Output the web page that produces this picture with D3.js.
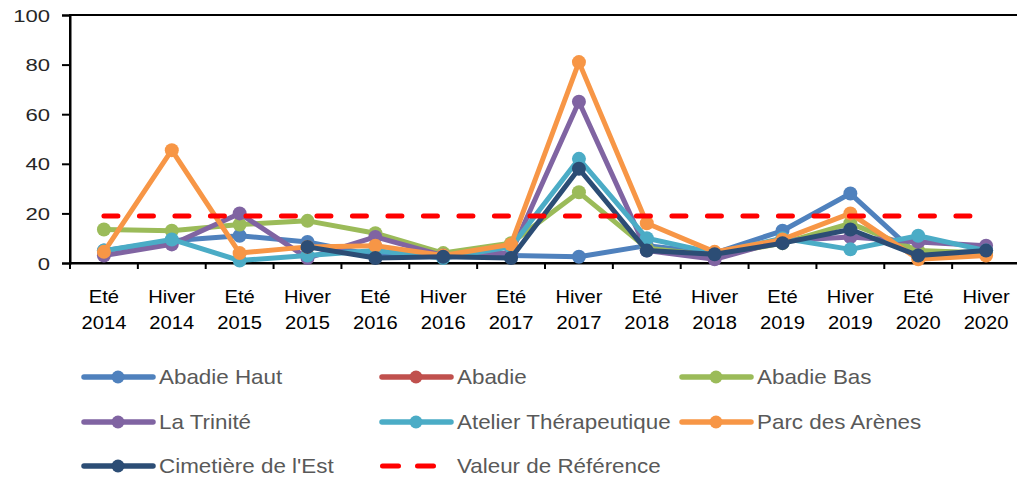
<!DOCTYPE html>
<html>
<head>
<meta charset="utf-8">
<script src="https://cdn.jsdelivr.net/npm/d3@7/dist/d3.min.js"></script>
<style>
  html, body { margin: 0; padding: 0; background: #ffffff; }
  svg { display: block; font-family: "Liberation Sans", Arial, sans-serif; }
</style>
</head>
<body>
<svg id="chart" width="1017" height="478"></svg>
<script>
// Sampling periods (two-line labels: season / year)
const seasons = ["Eté", "Hiver", "Eté", "Hiver", "Eté", "Hiver", "Eté", "Hiver", "Eté", "Hiver", "Eté", "Hiver", "Eté", "Hiver"];
const years   = ["2014", "2014", "2015", "2015", "2016", "2016", "2017", "2017", "2018", "2018", "2019", "2019", "2020", "2020"];
const periods = seasons.map((s, i) => s + " " + years[i]);

// Measured values per site
const abadieHaut  = [5, 9, 11, 8.5, 3, 3, 3, 2.5, 7, 4, 13, 28, 3, 5];
const abadie      = [null, null, null, null, null, null, null, null, null, null, null, null, null, null];
const abadieBas   = [13.5, 13, 15.5, 17, 12, 4, 8, 28.5, 6, 3, 8, 16, 5, 4];
const laTrinite   = [3, 7.5, 20, 2, 10.5, 3, 4, 65, 5, 1.5, 9, 10.5, 8.5, 7];
const atelier     = [5, 9.5, 1, 3, 5, 2, 6.5, 42, 10, 4, 10, 5.5, 11, 5];
const parcArenes  = [4.5, 45.5, 4, 6.5, 7, 3, 7.5, 81, 16, 4.5, 9.5, 20, 1.5, 3];
const cimetiere   = [null, null, null, 6.5, 2, 2.5, 2, 38, 5, 3.5, 8, 13.5, 3, 5];
const referenceValue = 19;

const yTicks = [0, 20, 40, 60, 80, 100];

const series = [
  { name: "Abadie Haut",            values: abadieHaut, color: "#4F81BD" },
  { name: "Abadie",                 values: abadie,     color: "#C0504D" },
  { name: "Abadie Bas",             values: abadieBas,  color: "#9BBB59" },
  { name: "La Trinité",             values: laTrinite,  color: "#8064A2" },
  { name: "Atelier Thérapeutique",  values: atelier,    color: "#4BACC6" },
  { name: "Parc des Arènes",        values: parcArenes, color: "#F79646" },
  { name: "Cimetière de l'Est",     values: cimetiere,  color: "#2C4D75" }
];
const refSeries = { name: "Valeur de Référence", values: periods.map(() => referenceValue), color: "#FF0000" };

const svg = d3.select("#chart");

const plot = { left: 70, right: 1020, top: 15, bottom: 263 };

const x = d3.scaleBand().domain(periods).range([plot.left, plot.right]).padding(0);
const y = d3.scaleLinear().domain([0, 100]).range([plot.bottom, plot.top]);
const cx = d => x(d) + x.bandwidth() / 2;

// Plot frame
svg.append("rect")
  .attr("x", plot.left).attr("y", plot.top)
  .attr("width", plot.right - plot.left).attr("height", plot.bottom - plot.top)
  .attr("fill", "none").attr("stroke", "#000").attr("stroke-width", 2);

// Y axis
const gy = svg.append("g")
  .attr("transform", `translate(${plot.left},0)`)
  .call(d3.axisLeft(y).tickValues(yTicks).tickSize(8).tickFormat(d3.format("d")));
gy.select(".domain").attr("stroke", "#000").attr("stroke-width", 2);
gy.selectAll(".tick line").attr("stroke", "#000").attr("stroke-width", 2);
gy.selectAll(".tick text")
  .attr("x", null)
  .attr("dy", "0.36em")
  .attr("transform", "translate(-20,0) scale(1.3,1)")
  .attr("font-size", 17)
  .attr("font-family", "'Liberation Sans', Arial, sans-serif")
  .attr("fill", "#262626");

// X axis (ticks on category boundaries)
const gx = svg.append("g")
  .attr("transform", `translate(0,${plot.bottom})`)
  .call(d3.axisBottom(x).tickSize(0).tickFormat(""));
gx.select(".domain").attr("stroke", "#000").attr("stroke-width", 2);
const bounds = periods.map(p => x(p)).concat([x(periods[periods.length - 1]) + x.bandwidth()]);
gx.selectAll(".bound")
  .data(bounds)
  .join("line")
  .attr("class", "bound")
  .attr("x1", d => d).attr("x2", d => d)
  .attr("y1", 0).attr("y2", 6)
  .attr("stroke", "#000").attr("stroke-width", 2);

const xl = svg.append("g").attr("class", "x-labels");
periods.forEach((p, i) => {
  const g = xl.append("g").attr("transform", `translate(${cx(p)},0)`);
  g.append("text").attr("text-anchor", "middle")
    .attr("transform", "translate(0,303) scale(1.12,1)")
    .attr("font-size", 18).attr("fill", "#000").text(seasons[i]);
  g.append("text").attr("text-anchor", "middle")
    .attr("transform", "translate(0,329) scale(1.12,1)")
    .attr("font-size", 18).attr("fill", "#000").text(years[i]);
});

// Series lines and markers
const line = d3.line()
  .defined(d => d.v != null)
  .x(d => cx(d.p))
  .y(d => y(d.v));

series.forEach(s => {
  const pts = periods.map((p, i) => ({ p, v: s.values[i] }));
  const g = svg.append("g").attr("class", "series");
  g.append("path")
    .datum(pts)
    .attr("d", line)
    .attr("fill", "none")
    .attr("stroke", s.color)
    .attr("stroke-width", 5)
    .attr("stroke-linejoin", "round")
    .attr("stroke-linecap", "round");
  g.selectAll("circle")
    .data(pts.filter(d => d.v != null))
    .join("circle")
    .attr("cx", d => cx(d.p))
    .attr("cy", d => y(d.v))
    .attr("r", 7)
    .attr("fill", s.color);
});

// Reference threshold
const refPts = periods.map((p, i) => ({ p, v: refSeries.values[i] }));
svg.append("path")
  .datum(refPts)
  .attr("d", line)
  .attr("fill", "none")
  .attr("stroke", refSeries.color)
  .attr("stroke-width", 5)
  .attr("stroke-linecap", "round")
  .attr("stroke-dasharray", "14,21.5");

// Legend
const legendCols = [82, 380, 680];
const legendRows = [377, 422, 466];
const legendItems = series.concat([refSeries]);
legendItems.forEach((s, i) => {
  const lx = legendCols[i % 3];
  const ly = legendRows[Math.floor(i / 3)];
  const g = svg.append("g").attr("class", "legend-item");
  if (s === refSeries) {
    g.append("line")
      .attr("x1", lx + 2.5).attr("x2", lx + 53.5)
      .attr("y1", ly).attr("y2", ly)
      .attr("stroke", s.color).attr("stroke-width", 5)
      .attr("stroke-linecap", "round")
      .attr("stroke-dasharray", "16,19");
  } else {
    g.append("line")
      .attr("x1", lx + 2).attr("x2", lx + 71)
      .attr("y1", ly).attr("y2", ly)
      .attr("stroke", s.color).attr("stroke-width", 5.5)
      .attr("stroke-linecap", "round");
    g.append("circle")
      .attr("cx", lx + 36).attr("cy", ly).attr("r", 6.5)
      .attr("fill", s.color);
  }
  g.append("text")
    .attr("transform", `translate(${lx + 77},${ly + 7}) scale(1.12,1)`)
    .attr("font-size", 20)
    .attr("fill", "#595959")
    .text(s.name);
});
</script>
</body>
</html>
